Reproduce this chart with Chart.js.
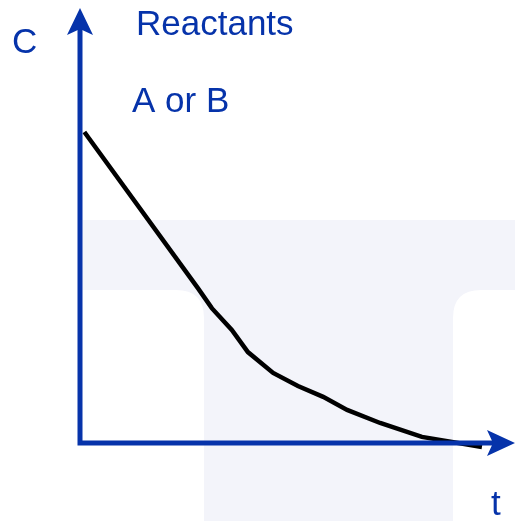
<!DOCTYPE html>
<html>
<head>
<meta charset="utf-8">
<script src="https://cdn.jsdelivr.net/npm/chart.js@4"></script>
<style>
  html, body { margin: 0; padding: 0; background: #ffffff; }
  #wrap { width: 515px; height: 521px; }
</style>
</head>
<body>
<div id="wrap"><canvas id="rateChart" width="515" height="521"></canvas></div>
<script>
// time (arbitrary units) and concentration of reactant
const times = [1, 27.1, 30.3, 34.9, 38.6, 44.4, 50.1, 55.9, 61.4, 69.0, 78.6, 92.4];
const conc = [71.5, 35.6, 31.0, 26.0, 20.9, 16.1, 13.1, 10.6, 7.6, 4.6, 1.4, -0.9];

const axisLabelY = 'C';
const axisLabelX = 't';
const seriesTitle = 'Reactants';
const seriesSub = 'A or B';

const blue = '#0633aa';
const fontFam = '"Liberation Sans", Arial, Helvetica, sans-serif';

// faint "T" watermark behind the plot
const watermark = {
    id: 'watermark',
    beforeDraw(chart) {
        const ctx = chart.ctx;
        ctx.save();
        ctx.fillStyle = '#f3f4fa';
        const r = 28;
        ctx.beginPath();
        ctx.moveTo(80, 220);
        ctx.lineTo(515, 220);
        ctx.lineTo(515, 290);
        ctx.lineTo(453 + r, 290);
        ctx.quadraticCurveTo(453, 290, 453, 290 + r);
        ctx.lineTo(453, 521);
        ctx.lineTo(204, 521);
        ctx.lineTo(204, 290 + r);
        ctx.quadraticCurveTo(204, 290, 204 - r, 290);
        ctx.lineTo(80, 290);
        ctx.closePath();
        ctx.fill();
        ctx.restore();
    }
};

// axes with arrow heads and the text labels
const arrowAxes = {
    id: 'arrowAxes',
    afterDatasetsDraw(chart) {
        const ctx = chart.ctx;
        const xs = chart.scales.x, ys = chart.scales.y;
        const x0 = xs.getPixelForValue(0);
        const y0 = ys.getPixelForValue(0);
        const xEnd = xs.getPixelForValue(xs.max);
        const yEnd = ys.getPixelForValue(ys.max);
        ctx.save();
        ctx.strokeStyle = blue;
        ctx.fillStyle = blue;
        ctx.lineWidth = 5;
        ctx.lineCap = 'butt';
        ctx.beginPath();
        ctx.moveTo(x0, y0 + 2.5);
        ctx.lineTo(x0, yEnd + 20);
        ctx.moveTo(x0 - 2.5, y0);
        ctx.lineTo(xEnd - 20, y0);
        ctx.stroke();

        ctx.beginPath();
        ctx.moveTo(x0, yEnd);
        ctx.lineTo(x0 + 13, yEnd + 27);
        ctx.lineTo(x0, yEnd + 21);
        ctx.lineTo(x0 - 13, yEnd + 27);
        ctx.closePath();
        ctx.fill();

        ctx.beginPath();
        ctx.moveTo(xEnd, y0);
        ctx.lineTo(xEnd - 28, y0 - 13);
        ctx.lineTo(xEnd - 22, y0);
        ctx.lineTo(xEnd - 28, y0 + 13);
        ctx.closePath();
        ctx.fill();

        ctx.font = '35px ' + fontFam;
        ctx.textBaseline = 'alphabetic';
        ctx.textAlign = 'left';
        ctx.fillText(axisLabelY, 12, 53);
        ctx.fillText(seriesTitle, 136, 35);
        ctx.fillText(seriesSub, 132, 112);
        ctx.fillText(axisLabelX, 491, 515);
        ctx.restore();
    }
};

const ctx = document.getElementById('rateChart').getContext('2d');
new Chart(ctx, {
    type: 'line',
    data: {
        datasets: [{
            data: times.map((t, i) => ({ x: t, y: conc[i] })),
            borderColor: '#000000',
            borderWidth: 4.5,
            pointRadius: 0,
            tension: 0,
            fill: false,
            clip: false
        }]
    },
    options: {
        responsive: false,
        animation: false,
        layout: { padding: { left: 80, top: 8, right: 0, bottom: 78 } },
        plugins: {
            legend: { display: false },
            tooltip: { enabled: false }
        },
        scales: {
            x: { type: 'linear', min: 0, max: 100, display: false },
            y: { type: 'linear', min: 0, max: 100, display: false }
        }
    },
    plugins: [watermark, arrowAxes]
});
</script>
</body>
</html>
